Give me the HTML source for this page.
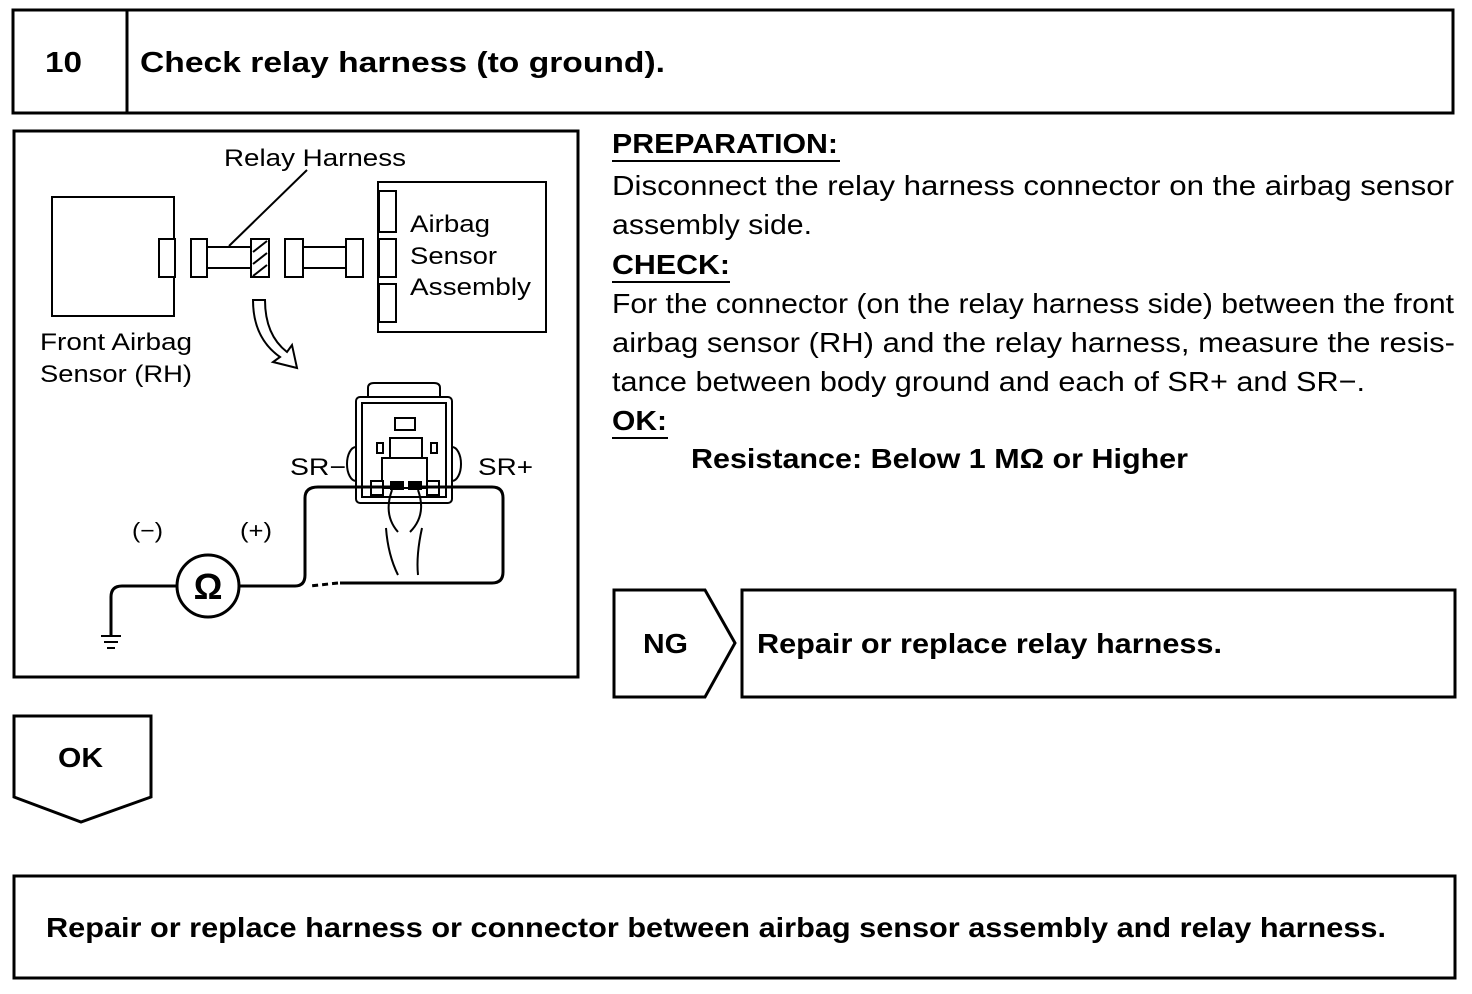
<!DOCTYPE html>
<html><head><meta charset="utf-8"><style>
html,body{margin:0;padding:0;background:#fff}
svg{display:block}
text{font-family:"Liberation Sans",Arial,sans-serif;fill:#000}
.b{font-weight:bold}
</style></head><body>
<svg width="1472" height="994" viewBox="0 0 1472 994" xmlns="http://www.w3.org/2000/svg">
<g fill="none" stroke="#000" stroke-width="3">
<rect x="13" y="10" width="1440" height="103"/>
<line x1="127" y1="10" x2="127" y2="113"/>
<rect x="14" y="131" width="564" height="546"/>
<polygon points="614,590 705,590 735,643 705,697 614,697"/>
<rect x="742" y="590" width="713" height="107"/>
<polygon points="14,716 151,716 151,797 81,822 14,797"/>
<rect x="14" y="876" width="1441" height="102"/>
</g>
<text x="45" y="72" font-size="29" class="b" textLength="37" lengthAdjust="spacingAndGlyphs">10</text>
<text x="140" y="72" font-size="29" class="b" textLength="525" lengthAdjust="spacingAndGlyphs">Check relay harness (to ground).</text>

<g fill="#fff" stroke="#000" stroke-width="2">
<rect x="52" y="197" width="122" height="119"/>
<rect x="159" y="239" width="16" height="38"/>
<rect x="191" y="239" width="16" height="38"/>
<rect x="207" y="247" width="44" height="21"/>
<rect x="251" y="239" width="18" height="38"/>
<rect x="285" y="239" width="18" height="38"/>
<rect x="303" y="247" width="43" height="21"/>
<rect x="346" y="239" width="17" height="38"/>
<rect x="378" y="182" width="168" height="150"/>
<rect x="379" y="191" width="17" height="41"/>
<rect x="379" y="239" width="17" height="38"/>
<rect x="379" y="284" width="17" height="38"/>
</g>
<g stroke="#000" stroke-width="2">
<line x1="253" y1="252" x2="267" y2="241"/><line x1="253" y1="264" x2="267" y2="253"/><line x1="253" y1="276" x2="267" y2="265"/>
<line x1="307" y1="170" x2="229" y2="246"/>
</g>
<g font-size="24">
<text x="224" y="166" textLength="182" lengthAdjust="spacingAndGlyphs">Relay Harness</text>
<text x="410" y="232" textLength="80" lengthAdjust="spacingAndGlyphs">Airbag</text>
<text x="410" y="264" textLength="87" lengthAdjust="spacingAndGlyphs">Sensor</text>
<text x="410" y="295" textLength="121" lengthAdjust="spacingAndGlyphs">Assembly</text>
<text x="40" y="350" textLength="152" lengthAdjust="spacingAndGlyphs">Front Airbag</text>
<text x="40" y="382" textLength="152" lengthAdjust="spacingAndGlyphs">Sensor (RH)</text>
</g>
<path d="M253,300 L265,300 Q265,335 287,352 L292,345 L297,368 L273,362 L280,357 Q253,338 253,300 Z" fill="#fff" stroke="#000" stroke-width="2"/>

<g fill="#fff" stroke="#000" stroke-width="2">
<ellipse cx="356" cy="464" rx="9" ry="17"/>
<ellipse cx="452" cy="464" rx="9" ry="17"/>
<path d="M368,397 L368,388 Q368,383 374,383 L434,383 Q440,383 440,388 L440,397"/>
<rect x="356" y="397" width="96" height="106" rx="4"/>
<rect x="362" y="403" width="84" height="94"/>
<rect x="395" y="418" width="20" height="12"/>
<rect x="390" y="438" width="32" height="20"/>
<rect x="377" y="443" width="6" height="10"/>
<rect x="431" y="443" width="6" height="10"/>
<rect x="382" y="458" width="45" height="30"/>
<rect x="371" y="481" width="12" height="14"/>
<rect x="427" y="481" width="12" height="14"/>
</g>
<rect x="390" y="481" width="14" height="9" fill="#000"/>
<rect x="408" y="481" width="14" height="9" fill="#000"/>
<g fill="none" stroke="#000" stroke-width="2">
<path d="M392,490 Q383,515 398,532 M418,490 Q427,515 410,532"/>
<path d="M386,528 Q388,555 398,575 M422,528 Q416,555 418,575"/>
</g>
<text x="290" y="475" font-size="24" textLength="56" lengthAdjust="spacingAndGlyphs">SR−</text>
<text x="478" y="475" font-size="24" textLength="55" lengthAdjust="spacingAndGlyphs">SR+</text>
<text x="132" y="538" font-size="22" textLength="31" lengthAdjust="spacingAndGlyphs">(−)</text>
<text x="240" y="538" font-size="22" textLength="32" lengthAdjust="spacingAndGlyphs">(+)</text>
<g fill="none" stroke="#000" stroke-width="3">
<path d="M240,586 L295,586 Q305,586 305,575 L305,498 Q305,487 318,487 L395,487"/>
<path d="M412,487 L492,487 Q503,487 503,498 L503,572 Q503,583 492,583 L340,583"/>
<path d="M338,583 L310,586" stroke-dasharray="6,4"/>
<path d="M177,586 L122,586 Q111,586 111,597 L111,635"/>
</g>
<circle cx="208" cy="586" r="31" fill="#fff" stroke="#000" stroke-width="3"/>
<text x="208" y="599" font-size="36" text-anchor="middle" class="b">Ω</text>
<g stroke="#000" stroke-width="2">
<line x1="101" y1="636" x2="121" y2="636"/><line x1="104" y1="642" x2="118" y2="642"/><line x1="107" y1="648" x2="115" y2="648"/>
</g>

<g font-size="28">
<text x="612" y="153" class="b" textLength="226" lengthAdjust="spacingAndGlyphs">PREPARATION:</text>
<text x="612" y="195" textLength="842" lengthAdjust="spacingAndGlyphs">Disconnect the relay harness connector on the airbag sensor</text>
<text x="612" y="234" textLength="200" lengthAdjust="spacingAndGlyphs">assembly side.</text>
<text x="612" y="274" class="b" textLength="118" lengthAdjust="spacingAndGlyphs">CHECK:</text>
<text x="612" y="313" textLength="842" lengthAdjust="spacingAndGlyphs">For the connector (on the relay harness side) between the front</text>
<text x="612" y="352" textLength="843" lengthAdjust="spacingAndGlyphs">airbag sensor (RH) and the relay harness, measure the resis-</text>
<text x="612" y="391" textLength="753" lengthAdjust="spacingAndGlyphs">tance between body ground and each of SR+ and SR−.</text>
<text x="612" y="430" class="b" textLength="55" lengthAdjust="spacingAndGlyphs">OK:</text>
<text x="691" y="468" class="b" textLength="497" lengthAdjust="spacingAndGlyphs">Resistance: Below 1 MΩ or Higher</text>
<text x="643" y="653" class="b" textLength="45" lengthAdjust="spacingAndGlyphs">NG</text>
<text x="757" y="653" class="b" textLength="465" lengthAdjust="spacingAndGlyphs">Repair or replace relay harness.</text>
<text x="58" y="767" class="b" textLength="45" lengthAdjust="spacingAndGlyphs">OK</text>
<text x="46" y="937" class="b" textLength="1340" lengthAdjust="spacingAndGlyphs">Repair or replace harness or connector between airbag sensor assembly and relay harness.</text>
</g>
<g stroke="#000" stroke-width="2">
<line x1="612" y1="161" x2="840" y2="161"/>
<line x1="612" y1="282" x2="730" y2="282"/>
<line x1="612" y1="438" x2="668" y2="438"/>
</g>
</svg>
</body></html>
